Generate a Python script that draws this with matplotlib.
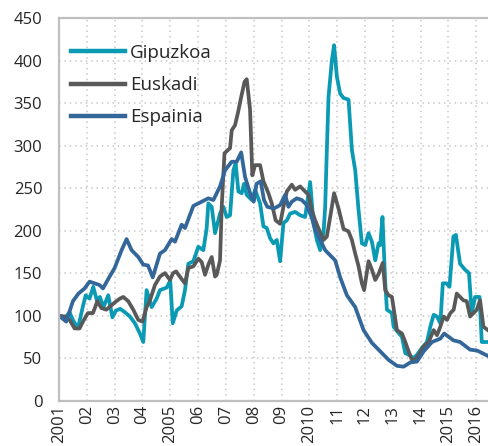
import matplotlib
matplotlib.use("Agg")
import matplotlib.pyplot as plt

# Series (fractional year, index 2001 = 100)
gip_x = [2001.0, 2001.2, 2001.38, 2001.5, 2001.68, 2001.86, 2001.96, 2002.1, 2002.23, 2002.36,
         2002.47, 2002.6, 2002.77, 2002.92, 2003.05, 2003.2, 2003.37, 2003.55, 2003.73, 2003.91,
         2004.03, 2004.15, 2004.33, 2004.51, 2004.63, 2004.87, 2005.0, 2005.09, 2005.23, 2005.41,
         2005.53, 2005.65, 2005.83, 2006.01, 2006.19, 2006.31, 2006.37, 2006.49, 2006.61, 2006.79,
         2006.91, 2007.03, 2007.15, 2007.27, 2007.35, 2007.45, 2007.57, 2007.65, 2007.75, 2007.93,
         2008.05, 2008.23, 2008.35, 2008.47, 2008.59, 2008.71, 2008.83, 2008.95, 2009.07, 2009.19,
         2009.31, 2009.49, 2009.67, 2009.85, 2010.03, 2010.15, 2010.27, 2010.39, 2010.51, 2010.57,
         2010.63, 2010.69, 2010.81, 2010.89, 2010.99, 2011.11, 2011.23, 2011.41, 2011.53, 2011.65,
         2011.77, 2011.89, 2012.01, 2012.13, 2012.25, 2012.37, 2012.49, 2012.55, 2012.63, 2012.73,
         2012.79, 2012.97, 2013.03, 2013.15, 2013.33, 2013.45, 2013.57, 2013.75, 2013.87, 2014.05,
         2014.23, 2014.35, 2014.47, 2014.59, 2014.71, 2014.8, 2014.93, 2015.04, 2015.18, 2015.27,
         2015.42, 2015.6, 2015.74, 2015.84, 2015.96, 2016.12, 2016.2, 2016.46]
gip_y = [100, 97, 104, 95, 85, 111, 124, 120, 134, 118,
         122, 110, 124, 98, 106, 108, 104, 99, 91, 79,
         69, 130, 110, 120, 130, 133, 141, 91, 106, 111,
         130, 161, 164, 181, 177, 203, 232, 228, 197, 220,
         228, 216, 218, 271, 279, 246, 244, 255, 242, 236,
         248, 232, 205, 203, 191, 185, 189, 164, 209, 212,
         220, 222, 218, 216, 257, 209, 189, 177, 197, 228,
         295, 357, 400, 418, 381, 361, 356, 354, 295, 271,
         224, 185, 183, 197, 187, 165, 185, 183, 216, 138,
         107, 103, 87, 82, 75, 56, 54, 50, 54, 62,
         69, 87, 101, 99, 91, 138, 138, 134, 193, 195,
         161, 154, 150, 103, 122, 122, 69, 69]

eus_x = [2001.0, 2001.2, 2001.38, 2001.56, 2001.74, 2001.86, 2002.04, 2002.22, 2002.38, 2002.52,
         2002.7, 2002.88, 2003.06, 2003.19, 2003.31, 2003.49, 2003.67, 2003.85, 2004.0, 2004.15,
         2004.27, 2004.45, 2004.63, 2004.81, 2004.99, 2005.1, 2005.21, 2005.41, 2005.53, 2005.65,
         2005.83, 2006.01, 2006.13, 2006.25, 2006.37, 2006.49, 2006.61, 2006.67, 2006.79, 2006.85,
         2006.95, 2007.15, 2007.21, 2007.33, 2007.43, 2007.55, 2007.67, 2007.75, 2007.87, 2007.95,
         2008.05, 2008.23, 2008.35, 2008.53, 2008.65, 2008.79, 2008.95, 2009.07, 2009.19, 2009.37,
         2009.49, 2009.67, 2009.85, 2009.97, 2010.09, 2010.21, 2010.35, 2010.51, 2010.63, 2010.75,
         2010.89, 2011.05, 2011.23, 2011.41, 2011.53, 2011.65, 2011.77, 2011.89, 2011.97, 2012.13,
         2012.25, 2012.37, 2012.49, 2012.64, 2012.73, 2012.85, 2012.97, 2013.15, 2013.33, 2013.45,
         2013.57, 2013.69, 2013.81, 2013.93, 2014.11, 2014.29, 2014.47, 2014.59, 2014.71, 2014.83,
         2014.95, 2015.07, 2015.19, 2015.3, 2015.42, 2015.54, 2015.66, 2015.78, 2015.9, 2016.02,
         2016.14, 2016.26, 2016.46]
eus_y = [100, 99, 95, 85, 85, 93, 103, 103, 117, 109,
         107, 112, 117, 120, 122, 117, 107, 95, 93, 110,
         118, 136, 146, 150, 142, 150, 152, 143, 138, 156,
         158, 167, 163, 148, 160, 169, 146, 148, 165, 228,
         291, 297, 318, 324, 338, 357, 375, 378, 342, 265,
         277, 277, 258, 244, 232, 212, 208, 228, 246, 254,
         248, 252, 246, 242, 224, 212, 201, 189, 193, 216,
         244, 226, 202, 199, 189, 173, 158, 138, 130, 164,
         154, 142, 149, 162, 130, 124, 122, 83, 79, 69,
         58, 48, 48, 54, 64, 69, 83, 77, 87, 99,
         95, 103, 107, 126, 122, 118, 117, 99, 103, 107,
         118, 87, 82]

esp_x = [2001.0, 2001.26, 2001.5, 2001.7, 2001.92, 2002.1, 2002.28, 2002.46, 2002.58, 2002.82,
         2003.0, 2003.25, 2003.43, 2003.61, 2003.85, 2004.03, 2004.2, 2004.37, 2004.63, 2004.81,
         2005.05, 2005.17, 2005.41, 2005.53, 2005.83, 2006.13, 2006.37, 2006.55, 2006.79, 2006.97,
         2007.21, 2007.39, 2007.55, 2007.69, 2007.91, 2008.0, 2008.1, 2008.25, 2008.37, 2008.49,
         2008.73, 2008.95, 2009.13, 2009.25, 2009.37, 2009.55, 2009.73, 2009.91, 2010.09, 2010.21,
         2010.39, 2010.57, 2010.75, 2010.93, 2011.11, 2011.35, 2011.65, 2011.95, 2012.25, 2012.55,
         2012.85, 2013.15, 2013.39, 2013.63, 2013.87, 2014.11, 2014.41, 2014.71, 2014.85, 2015.18,
         2015.42, 2015.78, 2016.03, 2016.46]
esp_y = [100, 93, 117, 126, 132, 140, 138, 136, 132, 146,
         156, 177, 190, 177, 169, 160, 159, 145, 173, 177,
         190, 187, 207, 203, 229, 234, 238, 236, 252, 271,
         281, 281, 292, 263, 240, 234, 255, 258, 236, 228,
         226, 230, 242, 228, 234, 238, 236, 230, 215, 201,
         189, 177, 171, 165, 145, 124, 110, 83, 68, 58,
         48, 41, 40, 45, 46, 58, 69, 73, 79, 71,
         69, 60, 59, 52]

year_ticks = list(range(2001, 2017))
year_labels = ["2001", "02", "03", "04", "2005", "06", "07", "08", "09",
               "2010", "11", "12", "13", "14", "2015", "2016"]
y_ticks = list(range(0, 451, 50))

plt.rcParams['font.family'] = ['Open Sans', 'DejaVu Sans']

W, H = 489, 446
fig = plt.figure(figsize=(W / 100, H / 100), dpi=100)
ax = fig.add_axes([59 / W, 45.3 / H, 430 / W, 382.7 / H])

ax.plot(gip_x, gip_y, color='#0a9ab4', lw=2.7, label='Gipuzkoa', solid_joinstyle='round')
ax.plot(eus_x, eus_y, color='#595959', lw=2.7, label='Euskadi', solid_joinstyle='round')
ax.plot(esp_x, esp_y, color='#336699', lw=2.7, label='Espainia', solid_joinstyle='round')

ax.set_xlim(2001, 2016.46)
ax.set_ylim(0, 450)
ax.set_xticks(year_ticks)
ax.set_xticklabels(year_labels, rotation=90)
ax.set_yticks(y_ticks)

ax.grid(True, color='#c8c8c8', lw=1.1, linestyle=(0, (1, 2.5)))
ax.set_axisbelow(True)

for side in ['left', 'bottom', 'top']:
    ax.spines[side].set_color('#bfbfbf')
    ax.spines[side].set_linewidth(1.6)
ax.spines['right'].set_visible(False)

ax.tick_params(axis='both', length=0, labelsize=12, labelcolor='#262626')
ax.tick_params(axis='y', pad=12)
ax.tick_params(axis='x', pad=3)

leg = ax.legend(loc='upper left', bbox_to_anchor=(71 / W, 1 - 44 / H),
                bbox_transform=fig.transFigure, frameon=False, fontsize=13.5,
                handlelength=2.9, handletextpad=0.25, labelspacing=0.76,
                borderpad=0, borderaxespad=0)
for t in leg.get_texts():
    t.set_color('#262626')
for line in leg.get_lines():
    line.set_linewidth(3.2)

fig.savefig('out.png', dpi=100)
